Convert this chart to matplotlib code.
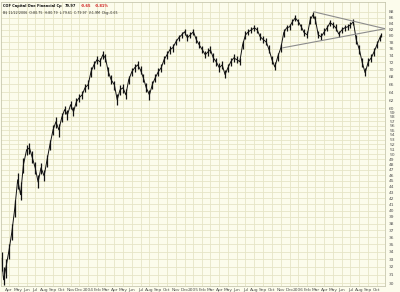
import matplotlib
matplotlib.use("Agg")
import matplotlib.pyplot as plt
import pandas as pd

# ---- data (approximate, every ~10 days) ----
dates = [
    "2003-03-06", "2003-03-13", "2003-03-21",
    "2003-04-01", "2003-04-11", "2003-04-21",
    "2003-05-01", "2003-05-11", "2003-05-21",
    "2003-06-01", "2003-06-11", "2003-06-21",
    "2003-07-01", "2003-07-11", "2003-07-21",
    "2003-08-01", "2003-08-11", "2003-08-21",
    "2003-09-01", "2003-09-11", "2003-09-21",
    "2003-10-01", "2003-10-11", "2003-10-21",
    "2003-11-01", "2003-11-11", "2003-11-21",
    "2003-12-01", "2003-12-11", "2003-12-21",
    "2004-01-01", "2004-01-11", "2004-01-21",
    "2004-02-01", "2004-02-11", "2004-02-21",
    "2004-03-01", "2004-03-11", "2004-03-21",
    "2004-04-01", "2004-04-11", "2004-04-21",
    "2004-05-01", "2004-05-11", "2004-05-21",
    "2004-06-01", "2004-06-11", "2004-06-21",
    "2004-07-01", "2004-07-11", "2004-07-21",
    "2004-08-01", "2004-08-11", "2004-08-21",
    "2004-09-01", "2004-09-11", "2004-09-21",
    "2004-10-01", "2004-10-11", "2004-10-21",
    "2004-11-01", "2004-11-11", "2004-11-21",
    "2004-12-01", "2004-12-11", "2004-12-21",
    "2005-01-01", "2005-01-11", "2005-01-21",
    "2005-02-01", "2005-02-11", "2005-02-21",
    "2005-03-01", "2005-03-11", "2005-03-21",
    "2005-04-01", "2005-04-11", "2005-04-21",
    "2005-05-01", "2005-05-11", "2005-05-21",
    "2005-06-01", "2005-06-11", "2005-06-21",
    "2005-07-01", "2005-07-11", "2005-07-21",
    "2005-08-01", "2005-08-11", "2005-08-21",
    "2005-09-01", "2005-09-11", "2005-09-21",
    "2005-10-01", "2005-10-11", "2005-10-21",
    "2005-11-01", "2005-11-11", "2005-11-21",
    "2005-12-01", "2005-12-11", "2005-12-21",
    "2006-01-01", "2006-01-11", "2006-01-21",
    "2006-02-01", "2006-02-11", "2006-02-21",
    "2006-03-01", "2006-03-11", "2006-03-21",
    "2006-04-01", "2006-04-11", "2006-04-21",
    "2006-05-01", "2006-05-11", "2006-05-21",
    "2006-06-01", "2006-06-11", "2006-06-21",
    "2006-07-01", "2006-07-11", "2006-07-21",
    "2006-08-01", "2006-08-11", "2006-08-21",
    "2006-09-01", "2006-09-11", "2006-09-21",
    "2006-10-01", "2006-10-11", "2006-10-16",
]
closes = [
    33.1, 30.4, 31.9, 34.2, 36.8, 40.4, 45.2, 42.6, 48.0,
    50.9, 51.3, 49.3, 47.4, 44.8, 47.4, 45.9, 48.9, 51.9,
    55.1, 56.9, 55.1, 57.8, 59.7, 58.5, 60.9, 59.2, 61.6,
    62.6, 63.3, 65.1, 65.9, 69.4, 71.3, 72.8, 72.2, 74.2,
    73.3, 69.4, 67.2, 65.9, 62.1, 64.6, 65.1, 63.3, 67.2,
    69.4, 70.5, 71.3, 69.9, 67.7, 65.1, 63.3, 65.9, 67.7,
    69.4, 70.5, 72.8, 74.2, 75.7, 76.3, 78.1, 79.4, 80.3,
    81.3, 79.4, 80.3, 81.3, 78.8, 77.2, 75.7, 74.2, 75.1,
    75.7, 73.3, 72.2, 70.5, 71.3, 68.6, 70.5, 72.2, 73.3,
    72.8, 72.2, 77.2, 80.3, 81.3, 81.9, 82.6, 81.9, 79.7,
    78.8, 78.1, 75.7, 72.8, 70.7, 73.6, 76.3, 81.0, 82.6,
    82.9, 84.6, 85.9, 84.6, 82.9, 81.0, 80.3, 85.3, 87.0,
    85.3, 80.3, 79.7, 81.3, 82.6, 84.3, 83.6, 82.6, 80.6,
    81.9, 82.6, 82.9, 83.6, 84.6, 78.8, 75.7, 71.9, 69.1,
    72.2, 73.3, 75.1, 77.2, 79.4, 79.97,
]
highs = [
    34.0, 32.0, 33.0, 35.0, 38.0, 41.8, 46.4, 44.8, 49.2,
    51.8, 52.2, 50.6, 48.6, 46.0, 48.3, 47.0, 49.8, 52.9,
    56.2, 57.9, 56.4, 58.9, 60.6, 59.6, 61.8, 60.4, 62.5,
    63.5, 64.4, 66.0, 67.2, 70.6, 72.4, 73.9, 73.4, 75.3,
    74.5, 70.8, 68.5, 67.0, 63.6, 65.8, 66.2, 64.8, 68.3,
    70.5, 71.5, 72.3, 71.0, 68.9, 66.4, 64.6, 66.9, 68.8,
    70.4, 71.6, 73.8, 75.3, 76.7, 77.4, 79.1, 80.4, 81.3,
    82.3, 80.6, 81.2, 82.2, 80.0, 78.4, 76.9, 75.4, 76.2,
    76.7, 74.6, 73.3, 71.7, 72.4, 69.9, 71.6, 73.2, 74.3,
    73.8, 73.3, 78.5, 81.4, 82.3, 82.9, 83.5, 82.9, 80.9,
    79.9, 79.2, 77.0, 74.0, 72.0, 74.8, 77.6, 82.1, 83.6,
    83.9, 85.6, 86.8, 85.7, 84.0, 82.1, 81.5, 86.4, 87.9,
    86.5, 81.6, 80.8, 82.4, 83.6, 85.2, 84.6, 83.7, 81.7,
    82.9, 83.6, 83.9, 84.6, 85.5, 80.2, 77.1, 73.2, 70.4,
    73.3, 74.4, 76.2, 78.3, 80.4, 80.8,
]
lows = [
    31.5, 29.8, 30.6, 33.0, 35.6, 39.0, 43.6, 41.8, 46.5,
    49.8, 50.1, 48.4, 46.3, 43.8, 46.2, 45.0, 47.6, 50.8,
    54.0, 55.6, 53.6, 56.8, 58.6, 57.2, 59.8, 58.1, 60.5,
    61.6, 62.3, 64.0, 64.8, 68.0, 70.1, 71.6, 70.9, 73.1,
    72.0, 68.2, 66.0, 64.6, 60.9, 63.3, 63.9, 62.2, 66.0,
    68.3, 69.4, 70.2, 68.8, 66.5, 64.0, 62.1, 64.7, 66.6,
    68.3, 69.4, 71.6, 73.0, 74.5, 75.1, 77.0, 78.3, 79.2,
    80.2, 78.3, 79.3, 80.2, 77.7, 76.1, 74.6, 73.2, 74.0,
    74.6, 72.2, 71.1, 69.4, 70.1, 67.6, 69.4, 71.1, 72.2,
    71.7, 71.2, 75.8, 79.1, 80.2, 80.8, 81.5, 80.8, 78.6,
    77.7, 77.0, 74.6, 71.6, 69.8, 72.4, 75.1, 79.7, 81.5,
    81.8, 83.5, 84.8, 83.4, 81.8, 79.9, 79.3, 84.0, 85.9,
    84.0, 79.3, 78.7, 80.2, 81.5, 83.2, 82.5, 81.5, 79.5,
    80.8, 81.5, 81.8, 82.5, 83.5, 77.6, 74.5, 70.7, 68.2,
    71.1, 72.2, 74.0, 76.1, 78.3, 79.6,
]

# trendlines (triangle)
upper_dates = ["2006-02-24", "2006-10-29"]
upper_vals = [88.0, 82.3]
lower_dates = ["2005-11-08", "2006-10-29"]
lower_vals = [76.3, 82.3]

ytick_vals = list(range(30, 61)) + list(range(62, 90, 2))
month_starts = pd.date_range("2003-04-01", "2006-10-01", freq="MS")
month_names = ["Jan", "Feb", "Mar", "Apr", "May", "Jun",
               "Jul", "Aug", "Sep", "Oct", "Nov", "Dec"]
xtick_labels = [str(d.year) if d.month == 1 else month_names[d.month - 1]
                for d in month_starts]

title_main = "COF Capital One Financial Cp"
title_last = "79.97"
title_chg = ["-0.65", "-0.81%"]
subtitle = "B$ 11/22/2006  O:80.75  H:80.79  L:79.61  C:79.97  V:1.9M  Chg:-0.65"

# ---- drawing ----
BG = "#FCFCEC"
GRID = "#E6E5C6"
NARROW = ["Liberation Sans Narrow", "DejaVu Sans"]

fig = plt.figure(figsize=(4.0, 2.92), dpi=100, facecolor=BG)
ax = fig.add_axes([1 / 400, 1 - 286 / 292, 384 / 400, 284 / 292])
ax.set_facecolor(BG)
ax.set_yscale("log")

x = pd.to_datetime(dates)
ax.vlines(x, lows, highs, color="#111111", lw=0.9)
ax.plot(x, closes, color="#111111", lw=0.7)

ax.plot(pd.to_datetime(upper_dates), upper_vals, color="#8c8c8c", lw=0.8)
ax.plot(pd.to_datetime(lower_dates), lower_vals, color="#8c8c8c", lw=0.8)

ax.set_xlim(pd.Timestamp("2003-03-04"), pd.Timestamp("2006-10-29"))
ax.set_ylim(29.66, 91.5)

ax.yaxis.set_major_locator(matplotlib.ticker.FixedLocator(ytick_vals))
ax.yaxis.set_minor_locator(matplotlib.ticker.NullLocator())
ax.set_yticklabels([str(v) for v in ytick_vals])
ax.yaxis.tick_right()
ax.tick_params(axis="y", length=0, pad=3, labelsize=3.2, labelcolor="#555555")

ax.set_xticks(month_starts)
ax.set_xticklabels(xtick_labels)
ax.tick_params(axis="x", length=0, pad=1.5, labelsize=3.2, labelcolor="#555555")

ax.grid(True, which="major", color=GRID, lw=0.6)
ax.set_axisbelow(True)
for s in ax.spines.values():
    s.set_color("#C8C8B0")
    s.set_linewidth(0.6)

# title line: place pieces one after another
fig.canvas.draw()
renderer = fig.canvas.get_renderer()
inv = ax.transAxes.inverted()
xpos = 0.004
pieces = [(title_main, "#111111"), (title_last, "#111111"),
          (title_chg[0], "#D02020"), (title_chg[1], "#D02020")]
for txt, col in pieces:
    t = ax.text(xpos, 0.993, txt, transform=ax.transAxes, fontsize=2.6,
                family=NARROW, fontweight="bold", va="top", ha="left",
                color=col)
    bb = t.get_window_extent(renderer)
    xpos = inv.transform((bb.x1 + 4, bb.y1))[0]
ax.text(0.004, 0.968, subtitle, transform=ax.transAxes, fontsize=2.3,
        family=NARROW, va="top", ha="left", color="#222222")

fig.savefig("out.png", dpi=100, facecolor=BG)
